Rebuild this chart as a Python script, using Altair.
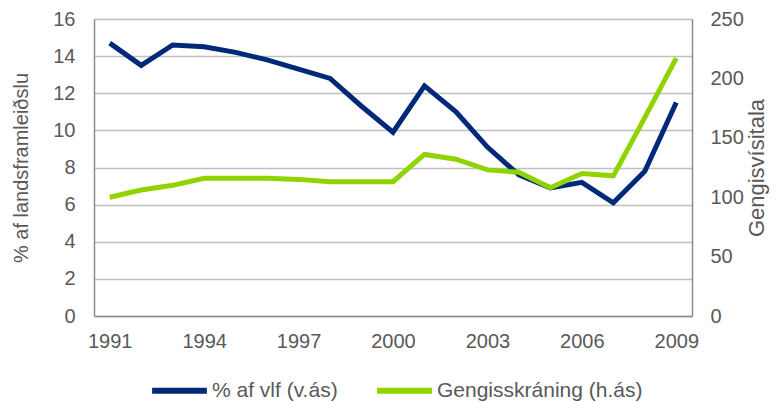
import altair as alt
import pandas as pd

years = list(range(1991, 2010))
pct_gdp = [14.7, 13.5, 14.6, 14.5, 14.2, 13.8, 13.3, 12.8, 11.3, 9.9,
           12.4, 11.0, 9.1, 7.6, 6.9, 7.2, 6.1, 7.8, 11.5]
fx_index = [100, 106, 110, 116, 116, 116, 115, 113, 113, 113,
            136, 132, 123, 121, 108, 120, 118, 167, 217]
series_names = ["% af vlf (v.ás)", "Gengisskráning (h.ás)"]
colors = ["#00297A", "#8FD400"]
x_ticks = [1991, 1994, 1997, 2000, 2003, 2006, 2009]

df = pd.DataFrame({
    "year": years * 2,
    "value": pct_gdp + fx_index,
    "series": [series_names[0]] * len(years) + [series_names[1]] * len(years),
})

FONT = "Liberation Sans"
TXT = "#595959"

color = alt.Color(
    "series:N",
    scale=alt.Scale(domain=series_names, range=colors),
    sort=series_names,
    legend=alt.Legend(
        title=None, orient="none", direction="horizontal",
        legendX=55, legendY=341, symbolType="stroke", symbolSize=3000,
        symbolStrokeWidth=6, labelFontSize=21, labelColor=TXT, labelFont=FONT,
        labelOffset=2, columnPadding=27, labelLimit=400,
    ),
)

x = alt.X(
    "year:Q",
    scale=alt.Scale(domain=[1990.5, 2009.5], nice=False, zero=False),
    axis=alt.Axis(values=x_ticks, format="d", title=None, grid=False, ticks=False,
                  labelPadding=15, labelFontSize=20, labelColor=TXT, labelFont=FONT,
                  domainColor="#8C8C8C", domainWidth=1.5),
)

left = alt.Chart(df).transform_filter(
    alt.datum.series == series_names[0]
).mark_line(strokeWidth=5, strokeJoin="miter").encode(
    x=x,
    y=alt.Y("value:Q", scale=alt.Scale(domain=[0, 16], nice=False),
            axis=alt.Axis(values=list(range(0, 17, 2)), title="% af landsframleiðslu",
                          orient="left", ticks=False, labelPadding=19,
                          labelFontSize=20, labelColor=TXT, labelFont=FONT,
                          titleFontSize=20, titleColor=TXT, titleFont=FONT,
                          titleFontWeight="normal", titlePadding=21,
                          grid=True, gridColor="#BFBFBF", gridWidth=1.5,
                          domainColor="#8C8C8C", domainWidth=1.5)),
    color=color,
)

right = alt.Chart(df).transform_filter(
    alt.datum.series == series_names[1]
).mark_line(strokeWidth=5, strokeJoin="miter").encode(
    x=x,
    y=alt.Y("value:Q", scale=alt.Scale(domain=[0, 250], nice=False),
            axis=alt.Axis(values=list(range(0, 251, 50)), title="Gengisvísitala",
                          orient="right", ticks=False, labelPadding=18,
                          labelFontSize=20, labelColor=TXT, labelFont=FONT,
                          titleFontSize=22, titleColor=TXT, titleFont=FONT,
                          titleFontWeight="normal", titlePadding=25, titleAngle=270,
                          grid=False, domainColor="#8C8C8C", domainWidth=1.5)),
    color=color,
)

chart = alt.layer(left, right).resolve_scale(y="independent").properties(
    width=598, height=297,
    autosize=alt.AutoSizeParams(type="none"),
    padding={"left": 86, "top": 11, "right": 78, "bottom": 85},
).configure_view(stroke=None).configure(background="white")

chart.save("out.html", embed_options={"renderer": "svg", "actions": False})
